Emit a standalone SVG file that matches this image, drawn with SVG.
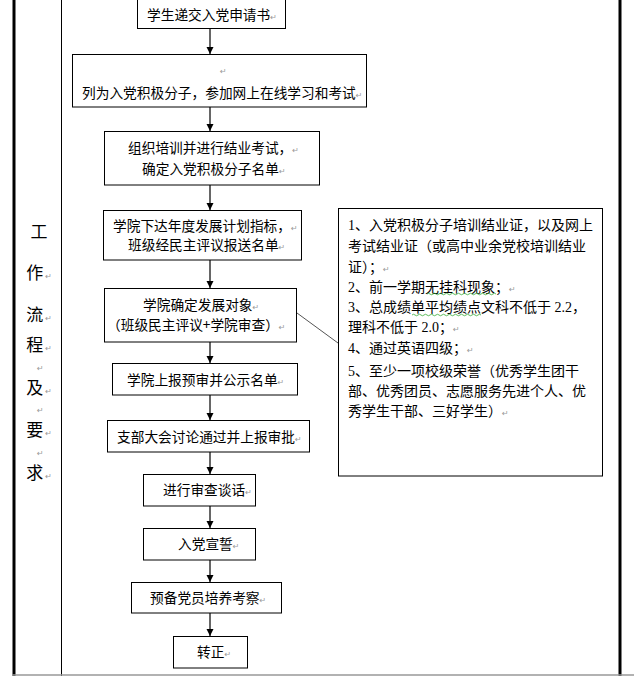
<svg xmlns="http://www.w3.org/2000/svg" width="634" height="676" viewBox="0 0 634 676">
<style>
.bx{fill:#fff;stroke:#000;stroke-width:1}
.t{font-family:"Noto Sans CJK SC","Noto Sans CJK JP",sans-serif;font-size:13.7px;fill:#000}
.n{font-family:"Liberation Serif","Noto Sans CJK SC",serif;font-size:14px;fill:#000}
.s{font-family:"Noto Sans CJK SC",sans-serif;font-size:17px;fill:#000;text-anchor:middle}
.r{font-family:"DejaVu Sans",sans-serif;font-size:8px;fill:#999}
.c{stroke:#333;stroke-width:1.5;fill:none}
</style>
<defs>
<marker id="ad" markerUnits="userSpaceOnUse" markerWidth="8" markerHeight="8" refX="4" refY="7" orient="0" viewBox="0 0 8 8">
<path d="M0.5,0 L7.5,0 L4,7 Z" fill="#000"/>
</marker>
</defs>

<g id="frame">
<rect x="12.5" y="0" width="3" height="676" fill="#000"/>
<line x1="61.5" y1="0" x2="61.5" y2="676" stroke="#000" stroke-width="1"/>
<rect x="618.5" y="0" width="3" height="676" fill="#000"/>
<line x1="12" y1="675" x2="634" y2="675" stroke="#999" stroke-width="1.5"/>
</g>

<g id="label">
<text class="s" x="39" y="238">工</text>
<text class="s" x="39" y="279">作<tspan class="r" dx="2">↵</tspan></text>
<text class="s" x="39" y="321">流<tspan class="r" dx="2">↵</tspan></text>
<text class="s" x="39" y="351">程<tspan class="r" dx="2">↵</tspan></text>
<text class="r" x="37" y="371">↵</text>
<text class="s" x="39" y="394">及<tspan class="r" dx="2">↵</tspan></text>
<text class="r" x="37" y="413">↵</text>
<text class="s" x="39" y="436">要<tspan class="r" dx="2">↵</tspan></text>
<text class="r" x="37" y="456">↵</text>
<text class="s" x="39" y="479">求<tspan class="r" dx="2">↵</tspan></text>
</g>

<g id="connectors">
<line class="c" x1="210" y1="28" x2="210" y2="54" marker-end="url(#ad)"/>
<line class="c" x1="210" y1="107" x2="210" y2="131" marker-end="url(#ad)"/>
<line class="c" x1="210" y1="185" x2="210" y2="210" marker-end="url(#ad)"/>
<line class="c" x1="210" y1="260" x2="210" y2="288" marker-end="url(#ad)"/>
<line class="c" x1="210" y1="342" x2="210" y2="363" marker-end="url(#ad)"/>
<line class="c" x1="210" y1="395" x2="210" y2="420" marker-end="url(#ad)"/>
<line class="c" x1="210" y1="452" x2="210" y2="474" marker-end="url(#ad)"/>
<line class="c" x1="210" y1="506" x2="210" y2="528" marker-end="url(#ad)"/>
<line class="c" x1="210" y1="560" x2="210" y2="582" marker-end="url(#ad)"/>
<line class="c" x1="210" y1="613" x2="210" y2="636" marker-end="url(#ad)"/>
<line x1="297" y1="313" x2="338" y2="343" stroke="#555" stroke-width="1"/>
</g>

<g id="n1">
<rect class="bx" x="137.5" y="-1" width="148" height="29.5"/>
<text class="t" x="147" y="20">学生递交入党申请书<tspan class="r">↵</tspan></text>
</g>
<g id="n2">
<rect class="bx" x="72.5" y="54.5" width="294" height="52.5"/>
<text class="r" x="220" y="74">↵</text>
<text class="t" x="82" y="98">列为入党积极分子，参加网上在线学习和考试<tspan class="r">↵</tspan></text>
</g>
<g id="n3">
<rect class="bx" x="104.5" y="131.5" width="215" height="53.5"/>
<text class="t" x="128" y="153">组织培训并进行结业考试，<tspan class="r">↵</tspan></text>
<text class="t" x="142" y="174">确定入党积极分子名单<tspan class="r">↵</tspan></text>
</g>
<g id="n4">
<rect class="bx" x="103.5" y="210.5" width="198" height="49.5"/>
<text class="t" x="113" y="231">学院下达年度发展计划指标，<tspan class="r">↵</tspan></text>
<text class="t" x="128" y="250">班级经民主评议报送名单<tspan class="r">↵</tspan></text>
</g>
<g id="n5">
<rect class="bx" x="104.5" y="288.5" width="192" height="53.5"/>
<text class="t" x="143" y="310">学院确定发展对象<tspan class="r">↵</tspan></text>
<text class="t" x="107" y="330">（班级民主评议+学院审查）<tspan class="r">↵</tspan></text>
</g>
<g id="n6">
<rect class="bx" x="112.5" y="363.5" width="185" height="31.5"/>
<text class="t" x="127" y="385">学院上报预审并公示名单<tspan class="r">↵</tspan></text>
</g>
<g id="n7">
<rect class="bx" x="107.5" y="420.5" width="202" height="31.5"/>
<text class="t" x="117" y="442">支部大会讨论通过并上报审批<tspan class="r">↵</tspan></text>
</g>
<g id="n8">
<rect class="bx" x="143.5" y="474.5" width="112" height="31.5"/>
<text class="t" x="163" y="495">进行审查谈话<tspan class="r">↵</tspan></text>
</g>
<g id="n9">
<rect class="bx" x="143.5" y="528.5" width="112" height="31.5"/>
<text class="t" x="178" y="549">入党宣誓<tspan class="r">↵</tspan></text>
</g>
<g id="n10">
<rect class="bx" x="131.5" y="582.5" width="150" height="30.5"/>
<text class="t" x="150" y="603">预备党员培养考察<tspan class="r">↵</tspan></text>
</g>
<g id="n11">
<rect class="bx" x="173.5" y="636.5" width="74" height="31.5"/>
<text class="t" x="197" y="657">转正<tspan class="r">↵</tspan></text>
</g>

<g id="requirements">
<rect class="bx" x="338.5" y="208.5" width="264" height="267.5"/>
<text class="n" x="348" y="230">1、入党积极分子培训结业证，以及网上</text>
<text class="n" x="348" y="251">考试结业证（或高中业余党校培训结业</text>
<text class="n" x="348" y="272">证）；<tspan class="r">↵</tspan></text>
<text class="n" x="348" y="292">2、前一学期无挂科现象；<tspan class="r">↵</tspan></text>
<text class="n" x="348" y="312">3、总成绩单平均绩点文科不低于 2.2，</text>
<text class="n" x="348" y="332">理科不低于 2.0；<tspan class="r">↵</tspan></text>
<text class="n" x="348" y="353">4、通过英语四级；<tspan class="r">↵</tspan></text>
<text class="n" x="348" y="376">5、至少一项校级荣誉（优秀学生团干</text>
<text class="n" x="348" y="396">部、优秀团员、志愿服务先进个人、优</text>
<text class="n" x="348" y="416">秀学生干部、三好学生）<tspan class="r">↵</tspan></text>
<path d="M427,294 q1.5,-1.5 3,0 t3,0 t3,0 t3,0 t3,0 t3,0 t3,0 t3,0 t3,0 t3,0 t3,0 t3,0 t3,0 t3,0 t3,0 t3,0 t3,0 t3,0 t3,0 t3,0 t3,0 t3,0 t3,0" fill="none" stroke="#3a3" stroke-width="0.8"/>
<path d="M412,315 q1.5,-1.5 3,0 t3,0 t3,0 t3,0 t3,0 t3,0 t3,0 t3,0 t3,0 t3,0 t3,0 t3,0 t3,0 t3,0 t3,0 t3,0 t3,0 t3,0 t3,0 t3,0 t3,0 t3,0 t3,0" fill="none" stroke="#3a3" stroke-width="0.8"/>
</g>
</svg>
